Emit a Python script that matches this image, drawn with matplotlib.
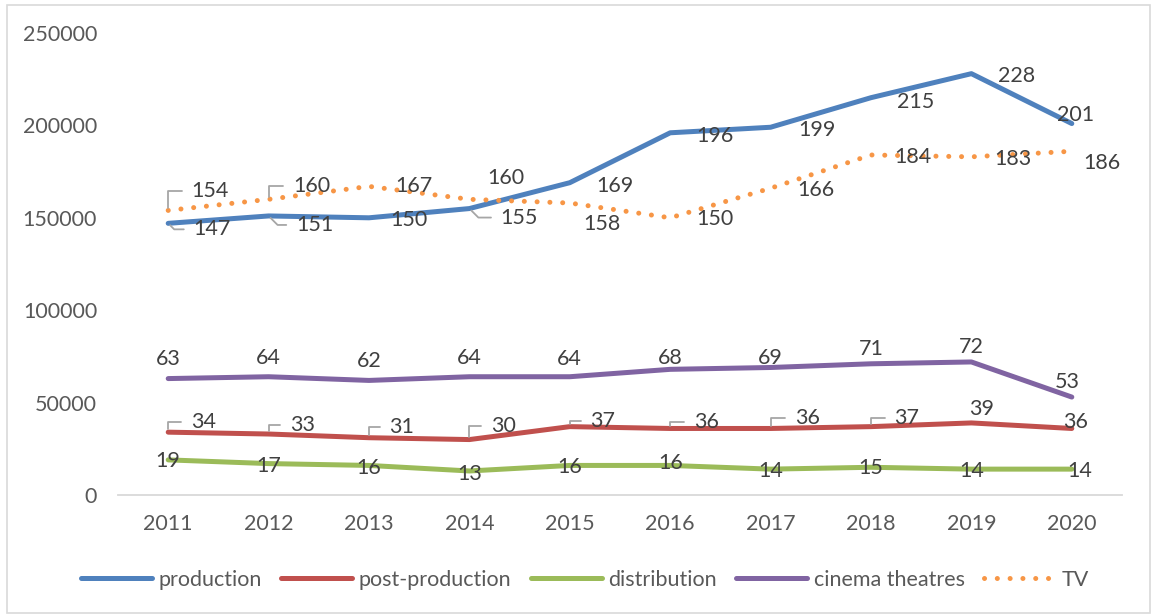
import matplotlib
matplotlib.use("Agg")
import matplotlib.pyplot as plt
from matplotlib.patches import Rectangle

plt.rcParams['font.family'] = ['Lato', 'DejaVu Sans']

years = ['2011', '2012', '2013', '2014', '2015', '2016', '2017', '2018', '2019', '2020']
production = [147000, 151000, 150000, 155000, 169000, 196000, 199000, 215000, 228000, 201000]
post_production = [34000, 33000, 31000, 30000, 37000, 36000, 36000, 37000, 39000, 36000]
distribution = [19000, 17000, 16000, 13000, 16000, 16000, 14000, 15000, 14000, 14000]
cinema_theatres = [63000, 64000, 62000, 64000, 64000, 68000, 69000, 71000, 72000, 53000]
tv = [154000, 160000, 167000, 160000, 158000, 150000, 166000, 184000, 183000, 186000]

# label offsets in pixels (dx, dy downwards) and leader-line flags
off_prod = [(44, 6), (46, 9), (40, 2), (50, 9), (45, 3), (45, 3), (46, 3), (45, 4), (45, 2), (4, -9)]
lead_prod = [0, 1, 3]
off_tv = [(42, -19), (43, -13), (45, 0), (36, -21), (32, 21), (45, 1), (45, 2), (42, 2), (42, 2), (30, 12)]
lead_tv = [0, 1]
off_cin = [(0, -20), (0, -19), (0, -19), (0, -19), (0, -18), (0, -11), (0, -9), (0, -15), (0, -15), (-5, -15)]
off_post = [(35, -10), (34, -9), (33, -11), (34, -14), (33, -6), (36, -6), (37, -10), (36, -9), (10, -14), (4, -6)]
lead_post = [0, 1, 2, 3, 4, 5, 6, 7]
off_dist = [(0, 1), (0, 2), (0, 3), (0, 3), (0, 2), (0, -2), (0, 2), (0, 1), (0, 2), (8, 2)]

C_PROD = '#4F81BD'
C_POST = '#C0504D'
C_DIST = '#9BBB59'
C_CIN = '#8064A2'
C_TV = '#F79646'

W, H = 1156, 615
fig = plt.figure(figsize=(W / 100, H / 100), dpi=100)
fig.patches.append(Rectangle((7 / W, 2 / H), (1150 - 7) / W, (610 - 2) / H,
                             transform=fig.transFigure, fill=False,
                             edgecolor='#D9D9D9', linewidth=1.2))
ax = fig.add_axes([118 / W, 1 - 495 / H, 1004 / W, (495 - 33) / H])

x = list(range(len(years)))
lw = 3.6
ax.plot(x, production, color=C_PROD, lw=lw, solid_capstyle='round', solid_joinstyle='round', label='production')
ax.plot(x, post_production, color=C_POST, lw=lw, solid_capstyle='round', solid_joinstyle='round', label='post-production')
ax.plot(x, distribution, color=C_DIST, lw=lw, solid_capstyle='round', solid_joinstyle='round', label='distribution')
ax.plot(x, cinema_theatres, color=C_CIN, lw=lw, solid_capstyle='round', solid_joinstyle='round', label='cinema theatres')
ax.plot(x, tv, color=C_TV, lw=lw, linestyle=(0, (0.01, 2.55)), dash_capstyle='round', label='TV')

ax.set_xlim(-0.5, 9.5)
ax.set_ylim(0, 250000)
ax.set_yticks([0, 50000, 100000, 150000, 200000, 250000])
ax.set_yticklabels(['0', '50000', '100000', '150000', '200000', '250000'])
ax.set_xticks(x)
ax.set_xticklabels(years)
ax.tick_params(axis='both', length=0, labelsize=15.5, colors='#595959')
ax.tick_params(axis='y', pad=15)
ax.tick_params(axis='x', pad=14)
for s in ['top', 'right', 'left']:
    ax.spines[s].set_visible(False)
ax.spines['bottom'].set_color('#D9D9D9')
ax.spines['bottom'].set_linewidth(1.3)

LBL = '#404040'
LEAD = '#A6A6A6'


def labels(vals, offs, leaders, kind):
    for i, (v, (dx, dy)) in enumerate(zip(vals, offs)):
        txt = str(int(round(v / 1000)))
        kw = {}
        if i in leaders:
            ang = 90 if kind == 'up' else -45
            kw['arrowprops'] = dict(arrowstyle='-', color=LEAD, lw=1.3,
                                    connectionstyle=f'angle,angleA=0,angleB={ang},rad=0',
                                    relpos=(0, 0.5), shrinkA=5, shrinkB=2)
        ax.annotate(txt, xy=(i, v), xytext=(dx, -dy), textcoords='offset pixels',
                    ha='center', va='center', fontsize=15.5, color=LBL, **kw)


labels(production, off_prod, lead_prod, 'down')
labels(tv, off_tv, lead_tv, 'up')
labels(cinema_theatres, off_cin, [], 'up')
labels(post_production, off_post, lead_post, 'up')
labels(distribution, off_dist, [], 'up')

fig.legend(loc='center', bbox_to_anchor=(0.506, 1 - 580 / H), ncol=5, frameon=False,
           fontsize=15.5, handlelength=3.3, handletextpad=0.3, columnspacing=0.9,
           labelcolor='#595959')

fig.savefig('out.png', dpi=100)
